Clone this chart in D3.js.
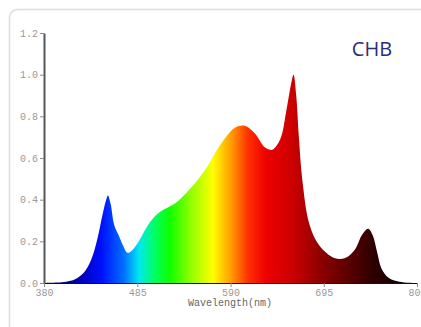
<!DOCTYPE html>
<html>
<head>
<meta charset="utf-8">
<script src="https://cdn.jsdelivr.net/npm/d3@7"></script>
<style>
  body { margin: 0; background: #fff; }
  svg { display: block; }
</style>
</head>
<body>
<div id="chart"></div>
<script>
// spectrum samples (nm, relative intensity)
var wavelengths = [380, 395, 405, 415, 425, 433, 440, 446, 450, 452, 455, 459, 464, 469, 474, 480, 488, 499, 510, 527, 544, 561, 578, 595, 606, 617, 629, 637, 646, 653, 658, 661, 664, 667, 671, 679, 690, 707, 719, 730, 738, 745, 750, 755, 760, 768, 780, 800];
var intensity   = [0, 0.002, 0.006, 0.018, 0.05, 0.11, 0.21, 0.33, 0.40, 0.42, 0.38, 0.28, 0.23, 0.18, 0.145, 0.16, 0.21, 0.29, 0.34, 0.38, 0.45, 0.54, 0.66, 0.745, 0.755, 0.72, 0.65, 0.64, 0.69, 0.83, 0.95, 1.0, 0.90, 0.70, 0.49, 0.28, 0.18, 0.12, 0.12, 0.16, 0.23, 0.26, 0.23, 0.15, 0.07, 0.025, 0.006, 0];

var xTicks = [380, 485, 590, 695, 800];
var yTicks = [0, 0.2, 0.4, 0.6, 0.8, 1.0, 1.2];

// colour of light along the wavelength axis
var stopNm     = [380, 420, 445, 470, 487, 505, 522, 545, 570, 590, 610, 630, 660, 690, 720, 750, 780, 800];
var stopColors = ["#000040", "#0000b0", "#0010ff", "#0070ff", "#00e8f0", "#00ff60", "#10ff00", "#90ff00", "#ffff00", "#ffa000", "#ff3000", "#ee0000", "#cc0000", "#900000", "#600000", "#300000", "#100000", "#000000"];

var W = 421, H = 327;
var svg = d3.select("#chart").append("svg")
  .attr("width", W)
  .attr("height", H);

// panel frame
svg.append("rect")
  .attr("x", 9.5).attr("y", 9.5)
  .attr("width", 440).attr("height", 340)
  .attr("rx", 8)
  .style("fill", "none")
  .style("stroke", "#dcdcdc")
  .style("stroke-width", 1.5);

var x = d3.scaleLinear().domain([380, 800]).range([44, 417]);
var y = d3.scaleLinear().domain([0, 1.2]).range([283, 33]);

var defs = svg.append("defs");
var grad = defs.append("linearGradient")
  .attr("id", "spectrum")
  .attr("gradientUnits", "userSpaceOnUse")
  .attr("x1", x(380)).attr("x2", x(800))
  .attr("y1", 0).attr("y2", 0);
grad.selectAll("stop")
  .data(stopNm)
  .enter()
  .append("stop")
  .attr("offset", function(d){ return (d - 380) / 420; })
  .attr("stop-color", function(d, i){ return stopColors[i]; });

var pts = wavelengths.map(function(w, i){ return [w, intensity[i]]; });

var area = d3.area()
  .x(function(d){ return x(d[0]); })
  .y0(y(0))
  .y1(function(d){ return y(d[1]); })
  .curve(d3.curveCatmullRom.alpha(0.5));

svg.append("path")
  .datum(pts)
  .attr("d", area)
  .style("fill", "url(#spectrum)");

var mono = "'Liberation Mono', 'DejaVu Sans Mono', monospace";

// y axis
var yAxis = svg.append("g")
  .attr("transform", "translate(44,0)")
  .call(d3.axisLeft(y).tickValues(yTicks).tickFormat(d3.format(".1f")).tickSize(4).tickSizeOuter(0));
yAxis.select(".domain").style("stroke", "#555").style("stroke-width", 2);
yAxis.selectAll(".tick line").style("stroke", "#888");
yAxis.selectAll("text")
  .style("font-family", mono)
  .style("font-size", "10px")
  .style("fill", "#999")
  .attr("x", -6);

// x axis
var xAxis = svg.append("g")
  .attr("transform", "translate(0,283)")
  .call(d3.axisBottom(x).tickValues(xTicks).tickFormat(d3.format("d")).tickSize(4).tickSizeOuter(0));
xAxis.select(".domain").style("stroke", "#111").style("stroke-width", 1.2);
xAxis.selectAll(".tick line").style("stroke", "#888");
xAxis.selectAll("text")
  .style("font-family", mono)
  .style("font-size", "10px")
  .style("fill", "#999")
  .attr("y", 6);

svg.append("text")
  .attr("x", 230)
  .attr("y", 306)
  .attr("text-anchor", "middle")
  .style("font-family", mono)
  .style("font-size", "10px")
  .style("fill", "#666")
  .text("Wavelength(nm)");

svg.append("text")
  .attr("x", 372)
  .attr("y", 56)
  .attr("text-anchor", "middle")
  .style("font-family", "'Open Sans', 'Noto Sans', sans-serif")
  .style("font-size", "20px")
  .style("fill", "#2c2c7c")
  .text("CHB");
</script>
</body>
</html>
